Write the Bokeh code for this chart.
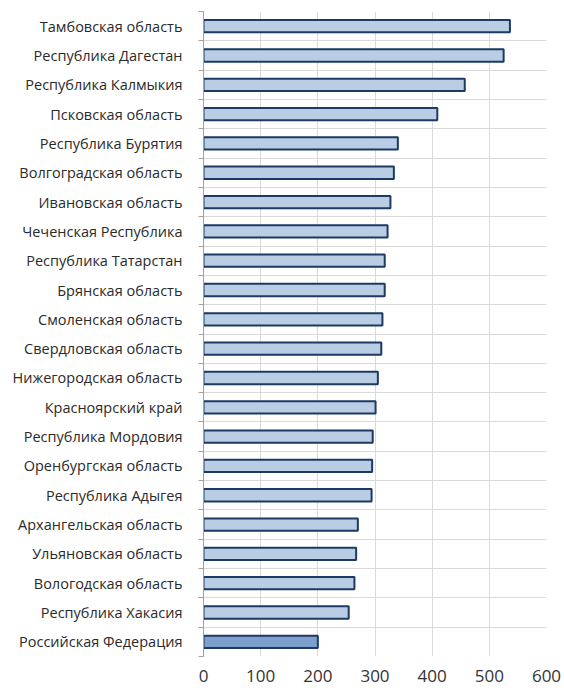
from bokeh.plotting import figure
from bokeh.models import Range1d, FixedTicker, ColumnDataSource
from bokeh.embed import file_html
from bokeh.resources import INLINE

regions = ["Тамбовская область", "Республика Дагестан", "Республика Калмыкия",
           "Псковская область", "Республика Бурятия", "Волгоградская область",
           "Ивановская область", "Чеченская Республика", "Республика Татарстан",
           "Брянская область", "Смоленская область", "Свердловская область",
           "Нижегородская область", "Красноярский край", "Республика Мордовия",
           "Оренбургская область", "Республика Адыгея", "Архангельская область",
           "Ульяновская область", "Вологодская область", "Республика Хакасия",
           "Российская Федерация"]
values = [536, 525, 457, 409, 340, 333, 327, 322, 317, 317, 313, 311, 305, 301,
          296, 295, 294, 270, 267, 264, 254, 200]
x_ticks = [0, 100, 200, 300, 400, 500, 600]
highlight = "Российская Федерация"

n = len(regions)
centers = [n - i - 0.5 for i in range(n)]
fills = ["#7C9FCE" if r == highlight else "#B9CDE5" for r in regions]
src = ColumnDataSource(dict(y=centers, v=values, fill=fills, name=regions))

p = figure(width=564, height=693, output_backend="svg", toolbar_location=None,
           x_range=Range1d(0, 600), y_range=Range1d(0, n),
           min_border_left=203, min_border_right=18, min_border_top=11,
           min_border_bottom=37)
p.outline_line_color = None
p.background_fill_color = "white"

p.hbar(y="y", right="v", left=0, height=0.42, source=src,
       fill_color="fill", line_color="#1C3A63", line_width=2)

# grids
p.xaxis.ticker = x_ticks
p.xgrid.grid_line_color = "#D9D9D9"
p.ygrid.ticker = FixedTicker(ticks=list(range(n + 1)))
p.ygrid.grid_line_color = "#D9D9D9"

# y axis
p.yaxis.ticker = FixedTicker(ticks=centers, minor_ticks=list(range(n + 1)))
p.yaxis.major_label_overrides = {c: r for c, r in zip(centers, regions)}
p.yaxis.major_tick_line_color = None
p.yaxis.major_tick_out = 0
p.yaxis.major_tick_in = 0
p.yaxis.minor_tick_out = 5
p.yaxis.minor_tick_in = 0
p.yaxis.minor_tick_line_color = "#A0A0A0"
p.yaxis.axis_line_color = "#A0A0A0"
p.yaxis.major_label_standoff = 16
p.yaxis.major_label_text_font = "Open Sans"
p.yaxis.major_label_text_font_size = "14.5px"
p.yaxis.major_label_text_color = "#2A2A2A"

# x axis
p.xaxis.axis_line_color = None
p.xaxis.major_tick_line_color = None
p.xaxis.minor_tick_line_color = None
p.xaxis.major_tick_out = 0
p.xaxis.major_tick_in = 0
p.xaxis.major_label_standoff = 13
p.xaxis.major_label_text_font = "Open Sans"
p.xaxis.major_label_text_font_size = "17px"
p.xaxis.major_label_text_color = "#333333"

open("out.html", "w").write(file_html(p, INLINE))
